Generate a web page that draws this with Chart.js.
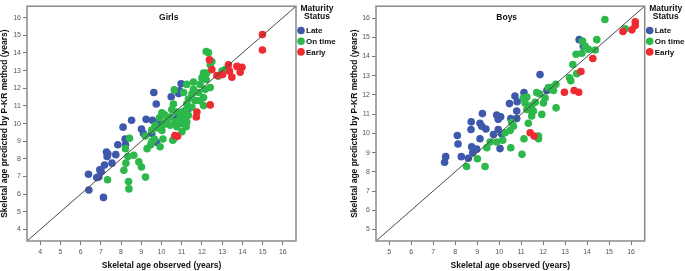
<!DOCTYPE html>
<html>
<head>
<meta charset="utf-8">
<script src="https://cdn.jsdelivr.net/npm/chart.js@4/dist/chart.umd.min.js"></script>
<style>
  html, body { margin: 0; padding: 0; background: #fff; }
  #wrap { position: relative; width: 685px; height: 271px; }
  canvas { position: absolute; top: 0; }
</style>
</head>
<body>
<div id="wrap">
  <canvas id="chartGirls" width="345" height="271" style="left:0"></canvas>
  <canvas id="chartBoys" width="340" height="271" style="left:345px"></canvas>
</div>
<script>
// observed age (x), predicted age (y)
const girlsLate = [
  [8.20, 9.13], [8.22, 8.80], [7.84, 8.80], [7.28, 8.39], [7.35, 8.28], [7.31, 8.13],
  [7.74, 8.24], [7.55, 7.76], [7.18, 7.65], [6.95, 7.39], [7.02, 7.28], [6.39, 7.13],
  [6.90, 6.98], [6.80, 6.94], [6.41, 6.24], [7.13, 5.82], [9.52, 9.44], [9.75, 8.94],
  [10.97, 12.26], [10.89, 11.86], [10.85, 11.70], [10.48, 11.52], [9.62, 11.76], [9.74, 11.11],
  [8.52, 10.19], [8.10, 9.80], [9.24, 10.24], [9.55, 10.19], [9.90, 10.06], [9.01, 9.69],
  [10.73, 10.28], [9.11, 9.44], [11.37, 10.87]
];
const girlsOnTime = [
  [8.42, 9.17], [8.22, 8.58], [8.34, 8.13], [8.63, 8.21], [8.24, 7.76], [8.14, 7.36],
  [8.88, 7.83], [9.01, 7.54], [7.33, 6.82], [8.37, 6.72], [8.39, 6.30], [9.21, 6.97],
  [9.29, 8.58], [9.47, 8.80], [9.52, 8.98], [9.64, 9.13], [9.93, 8.69], [10.56, 9.06],
  [10.07, 9.13], [9.20, 9.30],
  [10.63, 11.91], [10.59, 11.11], [10.51, 10.80], [10.02, 10.61], [10.15, 10.50], [10.43, 10.37],
  [9.90, 10.33], [10.27, 10.19], [10.68, 10.09], [10.43, 9.91], [10.10, 9.94], [9.69, 9.91],
  [9.80, 9.76], [9.52, 9.63], [10.02, 9.61], [10.76, 9.82], [10.92, 10.28], [10.73, 10.65],
  [12.21, 14.08], [12.32, 14.02], [12.49, 13.52], [12.41, 13.33], [12.82, 12.69], [12.99, 12.97],
  [13.15, 13.06], [12.08, 12.87], [12.24, 12.87], [12.00, 12.59], [12.21, 12.50], [11.58, 12.36],
  [11.91, 12.22], [12.41, 12.04], [12.16, 11.94], [11.83, 11.76], [11.58, 11.94], [11.50, 11.67],
  [12.08, 11.48], [11.91, 11.30], [11.67, 11.30], [11.33, 11.39], [11.25, 11.11], [11.50, 10.93],
  [12.08, 11.02], [11.17, 10.74], [11.01, 10.65], [11.33, 10.47], [11.09, 10.28], [11.01, 10.00],
  [11.22, 9.82], [11.09, 11.76], [11.25, 12.22], [11.01, 9.54], [11.25, 10.09], [10.63, 9.17]
];
const girlsEarly = [
  [14.99, 15.04], [14.99, 14.17], [12.37, 13.61], [12.49, 13.06], [13.31, 13.33], [13.73, 13.24],
  [13.98, 13.19], [13.89, 12.91], [13.36, 12.97], [13.48, 12.63], [13.02, 12.78], [12.74, 12.72],
  [12.41, 11.06], [11.75, 10.65], [11.72, 10.37], [10.66, 9.32], [10.79, 9.28]
];

const boysLate = [
  [10.72, 11.95], [10.82, 11.65], [10.47, 11.55], [10.80, 11.16], [10.80, 10.77], [10.53, 10.77],
  [9.24, 11.03], [9.89, 10.96], [10.07, 10.87], [9.96, 10.74], [8.73, 10.60], [9.13, 10.53],
  [9.21, 10.37], [9.40, 10.23], [8.72, 10.20], [9.96, 10.20], [9.74, 9.94], [8.10, 9.89],
  [9.13, 9.72], [8.13, 9.45], [8.75, 9.30], [8.86, 9.16], [8.98, 9.18], [8.80, 9.00],
  [8.28, 8.79], [8.60, 8.71], [7.57, 8.79], [7.52, 8.50], [10.04, 9.21], [10.12, 9.97],
  [13.64, 14.88], [13.83, 14.54], [11.86, 13.06], [12.17, 12.23], [11.13, 12.13]
];
const boysOnTime = [
  [10.57, 10.57], [10.65, 10.37], [10.27, 10.03], [10.50, 10.15], [10.16, 9.64], [9.89, 9.55],
  [9.59, 9.55], [9.44, 9.25], [10.53, 9.25], [9.01, 8.68], [8.52, 8.28], [9.36, 8.28],
  [14.81, 15.93], [15.73, 15.44], [13.79, 14.80], [14.44, 14.88], [13.91, 14.54], [14.06, 14.38],
  [14.37, 14.34], [13.76, 14.17], [13.50, 14.12], [13.35, 13.58], [13.53, 13.11], [13.20, 12.90],
  [13.26, 12.74], [12.58, 12.56], [12.40, 12.40], [12.24, 12.38], [12.47, 12.23], [11.71, 12.13],
  [11.83, 12.06], [12.09, 11.84], [12.01, 11.58], [11.26, 11.89], [11.10, 11.84], [11.18, 11.58],
  [11.64, 11.62], [11.48, 11.45], [11.41, 11.24], [11.56, 11.16], [11.26, 11.24], [12.59, 11.33],
  [11.94, 10.99], [11.48, 10.91], [11.33, 10.53], [11.13, 9.72], [11.79, 9.86], [11.79, 9.72],
  [11.04, 8.91]
];
const boysEarly = [
  [16.19, 15.81], [16.19, 15.61], [16.04, 15.39], [15.63, 15.30], [14.26, 13.90], [13.72, 13.22],
  [12.97, 12.14], [13.41, 12.23], [13.62, 12.14], [11.41, 10.03], [11.59, 9.86]
];

const girlsTicks = [4, 5, 6, 7, 8, 9, 10, 11, 12, 13, 14, 15, 16];
const boysTicks = [5, 6, 7, 8, 9, 10, 11, 12, 13, 14, 15, 16];
const girlsRange = [3.35, 16.65];
const boysRange = [4.4, 16.62];

const statusLabels = ['Late', 'On time', 'Early'];
const statusColors = ['#3e58ac', '#2db84b', '#ee2b33'];
const legendTitle = ['Maturity', 'Status'];
const xTitle = 'Skeletal age observed (years)';
const yTitle = 'Skeletal age predicted by P-KR method (years)';

const FONT = '"Liberation Sans", Arial, sans-serif';

// frame round the plot, panel title and the maturity legend
const framePlugin = {
    id: 'frame',
    afterDraw(chart, args, opts) {
        const { ctx, chartArea: a } = chart;
        ctx.save();
        ctx.strokeStyle = '#8a8a8a';
        ctx.lineWidth = 1.5;
        ctx.strokeRect(a.left, a.top, a.right - a.left, a.bottom - a.top);

        ctx.fillStyle = '#111';
        ctx.textBaseline = 'middle';
        ctx.textAlign = 'center';
        ctx.font = 'bold 8.5px ' + FONT;
        ctx.fillText(opts.title, a.left + opts.titleX, a.top + 11.5);

        const lx = a.right + 21;
        ctx.fillText(legendTitle[0], lx, 9);
        ctx.fillText(legendTitle[1], lx, 17);

        ctx.textAlign = 'left';
        ctx.font = 'bold 8px ' + FONT;
        statusLabels.forEach((label, i) => {
            const y = 30.5 + i * 10.7;
            ctx.fillStyle = statusColors[i];
            ctx.beginPath();
            ctx.arc(a.right + 5, y, 3.8, 0, Math.PI * 2);
            ctx.fill();
            ctx.fillStyle = '#111';
            ctx.fillText(label, a.right + 10, y + 0.5);
        });
        ctx.restore();
    }
};

function toPoints(arr) {
    return arr.map(p => ({ x: p[0], y: p[1] }));
}

function makeChart(id, title, titleX, groups, range, ticks, pad, axisWidth) {
    const ctx = document.getElementById(id).getContext('2d');
    const datasets = [{
        type: 'line',
        data: [{ x: range[0], y: range[0] }, { x: range[1], y: range[1] }],
        borderColor: '#4a4a4a',
        borderWidth: 1,
        pointRadius: 0,
        order: 0
    }];
    groups.forEach((g, i) => {
        datasets.push({
            label: statusLabels[i],
            data: toPoints(g),
            backgroundColor: statusColors[i],
            borderWidth: 0,
            pointRadius: 3.8,
            order: 3 - i
        });
    });

    const tickFont = { family: FONT, size: 7 };
    const titleFont = { family: FONT, size: 8.5, weight: 'bold' };

    new Chart(ctx, {
        type: 'scatter',
        data: { datasets: datasets },
        options: {
            responsive: false,
            animation: false,
            layout: { padding: pad },
            plugins: {
                legend: { display: false },
                tooltip: { enabled: false },
                frame: { title: title, titleX: titleX }
            },
            scales: {
                x: {
                    min: range[0],
                    max: range[1],
                    afterBuildTicks: s => { s.ticks = ticks.map(v => ({ value: v })); },
                    afterFit: s => { s.height = 30; },
                    border: { display: false },
                    grid: { drawOnChartArea: false, tickLength: 4, tickColor: '#777' },
                    ticks: { font: tickFont, color: '#555', padding: 3, maxRotation: 0 },
                    title: { display: true, text: xTitle, font: titleFont, color: '#111', padding: 0 }
                },
                y: {
                    min: range[0],
                    max: range[1],
                    afterBuildTicks: s => { s.ticks = ticks.map(v => ({ value: v })); },
                    afterFit: s => { s.width = axisWidth; },
                    border: { display: false },
                    grid: { drawOnChartArea: false, tickLength: 4, tickColor: '#777' },
                    ticks: { font: tickFont, color: '#555', padding: 2 },
                    title: { display: true, text: yTitle, font: titleFont, color: '#111', padding: 0 }
                }
            }
        },
        plugins: [framePlugin]
    });
}

makeChart('chartGirls', 'Girls', 141.7, [girlsLate, girlsOnTime, girlsEarly], girlsRange, girlsTicks,
    { top: 1, right: 49, left: 0, bottom: 0 }, 27);
makeChart('chartBoys', 'Boys', 130.7, [boysLate, boysOnTime, boysEarly], boysRange, boysTicks,
    { top: 1, right: 40.3, left: 5, bottom: 0 }, 26);
</script>
</body>
</html>
